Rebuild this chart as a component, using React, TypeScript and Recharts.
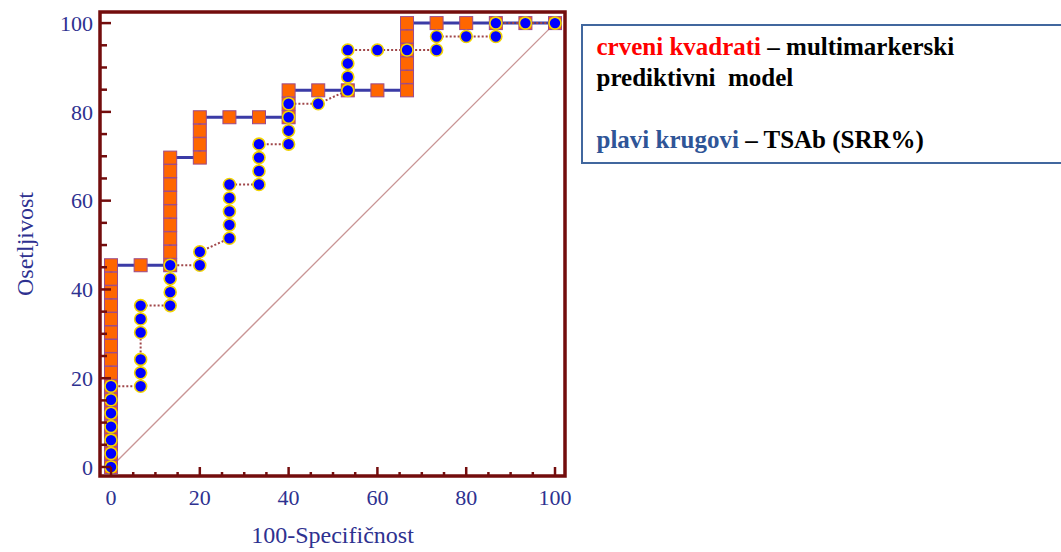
import { ScatterChart, Scatter, XAxis, YAxis, ReferenceArea } from 'recharts';

// [100-specificity, sensitivity] pairs
const modelRoc: [number, number][] = [
  [0, 0], [0, 3.03], [0, 6.06], [0, 9.09], [0, 12.12], [0, 15.15], [0, 18.18], [0, 21.21],
  [0, 24.24], [0, 27.27], [0, 30.3], [0, 33.33], [0, 36.36], [0, 39.39], [0, 42.42], [0, 45.45],
  [6.67, 45.45],
  [13.33, 45.45], [13.33, 48.48], [13.33, 51.52], [13.33, 54.55], [13.33, 57.58], [13.33, 60.61],
  [13.33, 63.64], [13.33, 66.67], [13.33, 69.7],
  [20, 69.7], [20, 72.73], [20, 75.76], [20, 78.79],
  [26.67, 78.79], [33.33, 78.79],
  [40, 78.79], [40, 81.82], [40, 84.85],
  [46.67, 84.85], [53.33, 84.85], [60, 84.85],
  [66.67, 84.85], [66.67, 87.88], [66.67, 90.91], [66.67, 93.94], [66.67, 96.97], [66.67, 100],
  [73.33, 100], [80, 100], [86.67, 100], [93.33, 100], [100, 100],
];

const tsabRoc: [number, number][] = [
  [0, 0], [0, 3.03], [0, 6.06], [0, 9.09], [0, 12.12], [0, 15.15], [0, 18.18],
  [6.67, 18.18], [6.67, 21.21], [6.67, 24.24], [6.67, 30.3], [6.67, 33.33], [6.67, 36.36],
  [13.33, 36.36], [13.33, 39.39], [13.33, 42.42], [13.33, 45.45],
  [20, 45.45], [20, 48.48],
  [26.67, 51.52], [26.67, 54.55], [26.67, 57.58], [26.67, 60.61], [26.67, 63.64],
  [33.33, 63.64], [33.33, 66.67], [33.33, 69.7], [33.33, 72.73],
  [40, 72.73], [40, 75.76], [40, 78.79], [40, 81.82],
  [46.67, 81.82],
  [53.33, 84.85], [53.33, 87.88], [53.33, 90.91], [53.33, 93.94],
  [60, 93.94], [66.67, 93.94],
  [73.33, 93.94], [73.33, 96.97],
  [80, 96.97],
  [86.67, 96.97], [86.67, 100],
  [93.33, 100], [100, 100],
];

const chanceLine: [number, number][] = [[0, 0], [100, 100]];

const axisTicks = [0, 5, 10, 15, 20, 25, 30, 35, 40, 45, 50, 55, 60, 65, 70, 75, 80, 85, 90, 95, 100];
const labeledTicks = [0, 20, 40, 60, 80, 100];

const FRAME = '#730d0d';
const TEXT = '#2e3190';
const FONT = '"Liberation Serif", "Times New Roman", serif';

const toPoints = (rows: [number, number][]) => rows.map(([x, y]) => ({ x, y }));

const XTick = (props: any) => {
  const { x, y, payload } = props;
  const major = labeledTicks.includes(payload.value);
  return (
    <g>
      <line x1={x} x2={x} y1={y} y2={y - (major ? 9 : 4)} stroke={FRAME} strokeWidth={2.5} />
      {major && (
        <text x={x} y={y + 29} textAnchor="middle" fill={TEXT} fontSize={22} fontFamily={FONT}>
          {payload.value}
        </text>
      )}
    </g>
  );
};

const YTick = (props: any) => {
  const { x, y, payload } = props;
  const major = labeledTicks.includes(payload.value);
  return (
    <g>
      <line x1={x} x2={x + (major ? 11 : 7)} y1={y} y2={y} stroke={FRAME} strokeWidth={2.5} />
      {major && (
        <text x={x - 7} y={y} dy="0.35em" textAnchor="end" fill={TEXT} fontSize={22} fontFamily={FONT}>
          {payload.value}
        </text>
      )}
    </g>
  );
};

const Square = (props: any) => {
  const { cx, cy } = props;
  return <rect x={cx - 6.5} y={cy - 6.5} width={13} height={13} fill="#ff6600" stroke="#9a4a8c" strokeWidth={1} />;
};

const Dot = (props: any) => {
  const { cx, cy } = props;
  return <circle cx={cx} cy={cy} r={6} fill="#0000ff" stroke="#f2d400" strokeWidth={1.6} />;
};

const NoMark = () => <g />;

export default function App() {
  return (
    <div style={{ position: 'absolute', left: 0, top: 0, width: 1061, height: 552, overflow: 'hidden', background: '#fff' }}>
      <ScatterChart width={1061} height={552} margin={{ top: 12, right: 496, bottom: 0, left: 0 }}>
        <XAxis
          type="number"
          dataKey="x"
          domain={[-2.48, 102.25]}
          ticks={axisTicks}
          interval={0}
          height={76}
          axisLine={false}
          tickLine={false}
          tickSize={0}
          tickMargin={0}
          tick={<XTick />}
          label={{
            content: (p: any) => (
              <text
                x={p.viewBox.x + p.viewBox.width / 2}
                y={543}
                textAnchor="middle"
                fill={TEXT}
                fontSize={24}
                fontFamily={FONT}
              >
                100-Specifičnost
              </text>
            ),
          }}
        />
        <YAxis
          type="number"
          dataKey="y"
          domain={[-2.03, 102.5]}
          ticks={axisTicks}
          interval={0}
          width={100}
          axisLine={false}
          tickLine={false}
          tickSize={0}
          tickMargin={0}
          tick={<YTick />}
          label={{
            content: (p: any) => {
              const cy = p.viewBox.y + p.viewBox.height / 2;
              return (
                <text
                  x={25}
                  y={cy}
                  transform={`rotate(-90, 25, ${cy})`}
                  dy="0.35em"
                  textAnchor="middle"
                  fill={TEXT}
                  fontSize={24}
                  fontFamily={FONT}
                >
                  Osetljivost
                </text>
              );
            },
          }}
        />
        <ReferenceArea x1={-2.48} x2={102.25} y1={-2.03} y2={102.5} fill="none" stroke={FRAME} strokeWidth={3.5} />
        <Scatter
          data={toPoints(chanceLine)}
          shape={<NoMark />}
          line={{ stroke: '#c99595', strokeWidth: 1.3 }}
          isAnimationActive={false}
        />
        <Scatter
          data={toPoints(modelRoc)}
          shape={<Square />}
          line={{ stroke: '#3b3ba6', strokeWidth: 3 }}
          isAnimationActive={false}
        />
        <Scatter
          data={toPoints(tsabRoc)}
          shape={<Dot />}
          line={{ stroke: '#a0474a', strokeWidth: 2, strokeDasharray: '2 2' }}
          isAnimationActive={false}
        />
      </ScatterChart>
      <div
        style={{
          position: 'absolute',
          left: 581,
          top: 24,
          width: 620,
          height: 140,
          boxSizing: 'border-box',
          border: '2.5px solid #41679e',
          padding: '4.5px 0 0 13.5px',
          fontFamily: FONT,
          fontWeight: 'bold',
          fontSize: 25,
          lineHeight: '31px',
          color: '#000',
          whiteSpace: 'pre',
        }}
      >
        <div>
          <span style={{ color: '#ff0000' }}>crveni kvadrati</span> – multimarkerski
        </div>
        <div>prediktivni  model</div>
        <div>{' '}</div>
        <div>
          <span style={{ color: '#2f5597' }}>plavi krugovi</span> – TSAb (SRR%)
        </div>
      </div>
    </div>
  );
}
